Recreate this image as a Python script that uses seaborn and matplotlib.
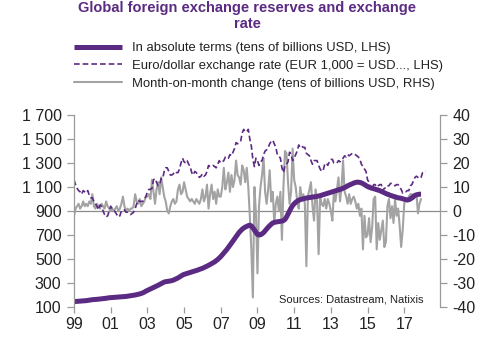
import numpy as np
import pandas as pd
import matplotlib
matplotlib.use("Agg")
import matplotlib.pyplot as plt
import seaborn as sns

# ---------------- data (monthly, Jan 1999 onwards) ----------------
reserves = [  # tens of billions USD, LHS
    145, 146, 147, 148, 149, 150, 151, 152, 153, 155, 157, 159,
    161, 162, 163, 164, 165, 167, 168, 170, 171, 173, 175, 177,
    178, 179, 180, 181, 182, 183, 184, 185, 186, 187, 188, 190,
    192, 194, 196, 198, 200, 203, 206, 209, 213, 218, 224, 232,
    238, 244, 250, 256, 262, 268, 274, 281, 288, 295, 302, 308,
    311, 313, 315, 317, 320, 324, 330, 336, 342, 350, 358, 366,
    372, 376, 380, 384, 388, 392, 396, 400, 404, 408, 413, 418,
    422, 428, 434, 440, 447, 454, 461, 468, 476, 486, 496, 508,
    520, 535, 550, 565, 580, 598, 615, 632, 650, 668, 686, 705,
    722, 735, 748, 758, 766, 772, 778, 782, 775, 760, 742, 722,
    705, 700, 702, 710, 720, 735, 750, 765, 778, 790, 800, 805,
    808, 810, 812, 814, 816, 820, 830, 850, 875, 900, 925, 945,
    960, 972, 982, 990, 995, 998, 1002, 1005, 1008, 1010, 1012, 1014,
    1016, 1018, 1020, 1022, 1025, 1028, 1032, 1036, 1040, 1044, 1048, 1052,
    1056, 1060, 1064, 1068, 1072, 1076, 1080, 1084, 1090, 1096, 1102, 1110,
    1116, 1122, 1128, 1133, 1137, 1140, 1140, 1138, 1134, 1128, 1120, 1112,
    1104, 1098, 1094, 1090, 1086, 1082, 1078, 1074, 1070, 1064, 1058, 1052,
    1046, 1040, 1036, 1030, 1026, 1022, 1018, 1014, 1010, 1008, 1006, 1002,
    998, 995, 992, 994, 1000, 1010, 1020, 1030, 1035, 1038, 1040, 1040,
]

eurusd = [  # EUR 1,000 = USD..., LHS
    1160, 1120, 1090, 1070, 1060, 1040, 1070, 1060, 1050, 1070, 1030, 1010,
    1010, 980, 960, 940, 910, 950, 940, 900, 870, 850, 860, 900,
    940, 920, 910, 890, 870, 850, 860, 900, 910, 910, 890, 890,
    880, 870, 880, 890, 920, 960, 990, 980, 980, 980, 1000, 1020,
    1060, 1080, 1080, 1090, 1160, 1170, 1140, 1110, 1120, 1170, 1170, 1230,
    1260, 1260, 1230, 1200, 1200, 1210, 1230, 1220, 1220, 1250, 1300, 1340,
    1310, 1300, 1320, 1290, 1270, 1220, 1200, 1230, 1220, 1200, 1180, 1190,
    1210, 1190, 1200, 1230, 1280, 1270, 1270, 1280, 1270, 1260, 1290, 1320,
    1300, 1310, 1320, 1350, 1350, 1340, 1370, 1360, 1390, 1420, 1470, 1460,
    1470, 1480, 1550, 1580, 1560, 1560, 1580, 1500, 1440, 1330, 1270, 1340,
    1320, 1280, 1310, 1320, 1370, 1400, 1410, 1430, 1460, 1480, 1490, 1460,
    1430, 1370, 1360, 1340, 1260, 1220, 1280, 1290, 1310, 1390, 1370, 1320,
    1340, 1370, 1400, 1450, 1430, 1440, 1430, 1430, 1380, 1370, 1360, 1320,
    1290, 1320, 1320, 1320, 1280, 1250, 1230, 1240, 1290, 1300, 1280, 1310,
    1330, 1330, 1300, 1300, 1300, 1320, 1310, 1330, 1340, 1360, 1350, 1370,
    1360, 1370, 1380, 1380, 1370, 1360, 1350, 1330, 1290, 1270, 1250, 1230,
    1160, 1140, 1080, 1080, 1120, 1120, 1100, 1110, 1120, 1120, 1070, 1090,
    1090, 1110, 1110, 1130, 1130, 1120, 1110, 1120, 1120, 1100, 1080, 1050,
    1060, 1060, 1070, 1070, 1110, 1120, 1150, 1180, 1190, 1180, 1170, 1180,
    1220, 1230, 1230,
]

mom_change = [  # tens of billions USD, RHS
    -2, 1, 2, 3, 1, 2, 4, 2, 3, 2, 4, 3,
    7, 2, 1, 3, 2, 1, 3, 2, 1, 4, 2, 1,
    0, 1, 0, 1, 2, 0, 1, 3, 6, 2, 0, 1,
    0, 1, 1, 2, 7, 4, 3, 5, 2, 3, 4, 6,
    6, 7, 5, 13, 8, 3, 9, 12, 7, 14, 10, 6,
    4, 0, -1, 2, 4, 5, 3, 4, 9, 11, 7, 8,
    12, 9, 6, 5, 4, 5, 4, 3, 5, 4, 3, 5,
    9, 4, 6, 11, 1, 7, 11, 5, 8, 3, 9, 6,
    6, 10, 18, 9, 12, 16, 8, 15, 10, 13, 21, 15,
    14, 11, 19, 17, 12, 18, 10, -2, -16, -36, 10, -1,
    -26, 2, 10, 15, 22, 8, 3, 9, 17, 4, 8, -5,
    3, 6, 0, 8, -12, 10, 25, 24, 12, 3, 8, 26,
    13, 10, 4, 1, 10, 5, 7, 3, -23, 6, 9, 12,
    2, -4, 9, 4, -18, 6, 3, 2, 5, 1, 5, 3,
    0, -4, 8, 4, 9, 14, 4, 10, 21, 8, 6, 3,
    7, 3, 5, 6, 4, 1, 3, -2, 1, -16, -2, -11,
    -10, -3, -13, -7, 5, 6, -16, -5, -12, -8, -4, -15,
    -13, 2, 5, -3, 2, -5, 5, -2, 1, -6, -15, -8,
    3, 5, 4, 6, 7, 7, 5, 6, 7, -1, 3, 5,
]

year_ticks = [1999, 2001, 2003, 2005, 2007, 2009, 2011, 2013, 2015, 2017]
year_labels = ["99", "01", "03", "05", "07", "09", "11", "13", "15", "17"]
lhs_ticks = [100, 300, 500, 700, 900, 1100, 1300, 1500, 1700]
lhs_labels = ["100", "300", "500", "700", "900", "1 100", "1 300", "1 500", "1 700"]
rhs_ticks = [-40, -30, -20, -10, 0, 10, 20, 30, 40]
rhs_labels = ["-40", "-30", "-20", "-10", "0", "10", "20", "30", "40"]

labels = ["In absolute terms (tens of billions USD, LHS)",
          "Euro/dollar exchange rate (EUR 1,000 = USD..., LHS)",
          "Month-on-month change (tens of billions USD, RHS)"]

# ---------------- frames ----------------
def frame(vals):
    return pd.DataFrame({"t": 1999 + np.arange(len(vals)) / 12.0, "v": vals})

df_res = frame(reserves)
df_fx = frame(eurusd)
df_mom = frame(mom_change)

# ---------------- style ----------------
sns.set_theme(style="white")
plt.rcParams["font.family"] = ["Liberation Sans", "DejaVu Sans"]
plt.rcParams["axes.unicode_minus"] = False

purple = "#5b2a82"
grey = "#a3a3a3"
axis_grey = "#9a9a9a"

fig = plt.figure(figsize=(5.0, 3.42), dpi=100)
ax = fig.add_axes([74 / 500, 1 - 307 / 342, (440 - 74) / 500, (307 - 115) / 342])
ax2 = ax.twinx()

# RHS series first (drawn behind)
sns.lineplot(data=df_mom, x="t", y="v", ax=ax2, color=grey, lw=1.5, label=labels[2], legend=False)
ax2.axhline(0, color="#8c8c8c", lw=0.9, zorder=1)
sns.lineplot(data=df_fx, x="t", y="v", ax=ax, color=purple, lw=1.2, label=labels[1], legend=False)
ax.lines[-1].set_dashes([3.4, 1.8])
sns.lineplot(data=df_res, x="t", y="v", ax=ax, color=purple, lw=3.6, label=labels[0], legend=False,
             solid_capstyle="butt")

# put primary axis above secondary so purple lines are on top of grey
ax.set_zorder(ax2.get_zorder() + 1)
ax.patch.set_visible(False)

ax.set_xlim(1999, 2018.95)
ax.set_ylim(100, 1700)
ax2.set_ylim(-40, 40)
ax.set_xticks(year_ticks)
ax.set_xticklabels(year_labels)
ax.set_yticks(lhs_ticks)
ax.set_yticklabels(lhs_labels)
ax2.set_yticks(rhs_ticks)
ax2.set_yticklabels(rhs_labels)
ax.set_xlabel("")
ax.set_ylabel("")
ax2.set_xlabel("")
ax2.set_ylabel("")

for a in (ax, ax2):
    a.spines["top"].set_visible(False)
    a.spines["bottom"].set_visible(False)
    a.spines["left"].set_color(axis_grey)
    a.spines["right"].set_color(axis_grey)
    a.spines["left"].set_linewidth(0.9)
    a.spines["right"].set_linewidth(0.9)
ax.spines["right"].set_visible(False)
ax2.spines["left"].set_visible(False)

ax.tick_params(axis="y", direction="out", length=5, width=0.9, color=axis_grey,
               labelsize=11.5, labelcolor="#222222", pad=4, left=True)
ax.tick_params(axis="x", direction="out", length=4, width=0.9, color=axis_grey,
               labelsize=11.5, labelcolor="#222222", pad=3, bottom=True)
ax2.tick_params(axis="y", direction="out", length=5, width=0.9, color=axis_grey,
                labelsize=11.5, labelcolor="#222222", pad=4, right=True)

ax2.text(2018.07, -36.8, "Sources: Datastream, Natixis", ha="right", va="center",
         fontsize=8.0, color="#222222")

# title
fig.text(247 / 500, 1 - 1 / 342, "Global foreign exchange reserves and exchange\nrate",
         ha="center", va="top", fontsize=10.5, fontweight="bold", color=purple,
         linespacing=1.15)

# legend
h1 = ax.lines[-1]
h2 = [l for l in ax.lines if l.get_label() == labels[1]][0]
h3 = [l for l in ax2.lines if l.get_label() == labels[2]][0]
fig.legend([h1, h2, h3], labels, loc="upper left", bbox_to_anchor=(74 / 500, 1 - 42 / 342),
           frameon=False, fontsize=9.4, handlelength=3.7, handletextpad=0.75,
           labelspacing=0.43, borderpad=0, borderaxespad=0, labelcolor="#222222")

fig.savefig("out.png", dpi=100)
